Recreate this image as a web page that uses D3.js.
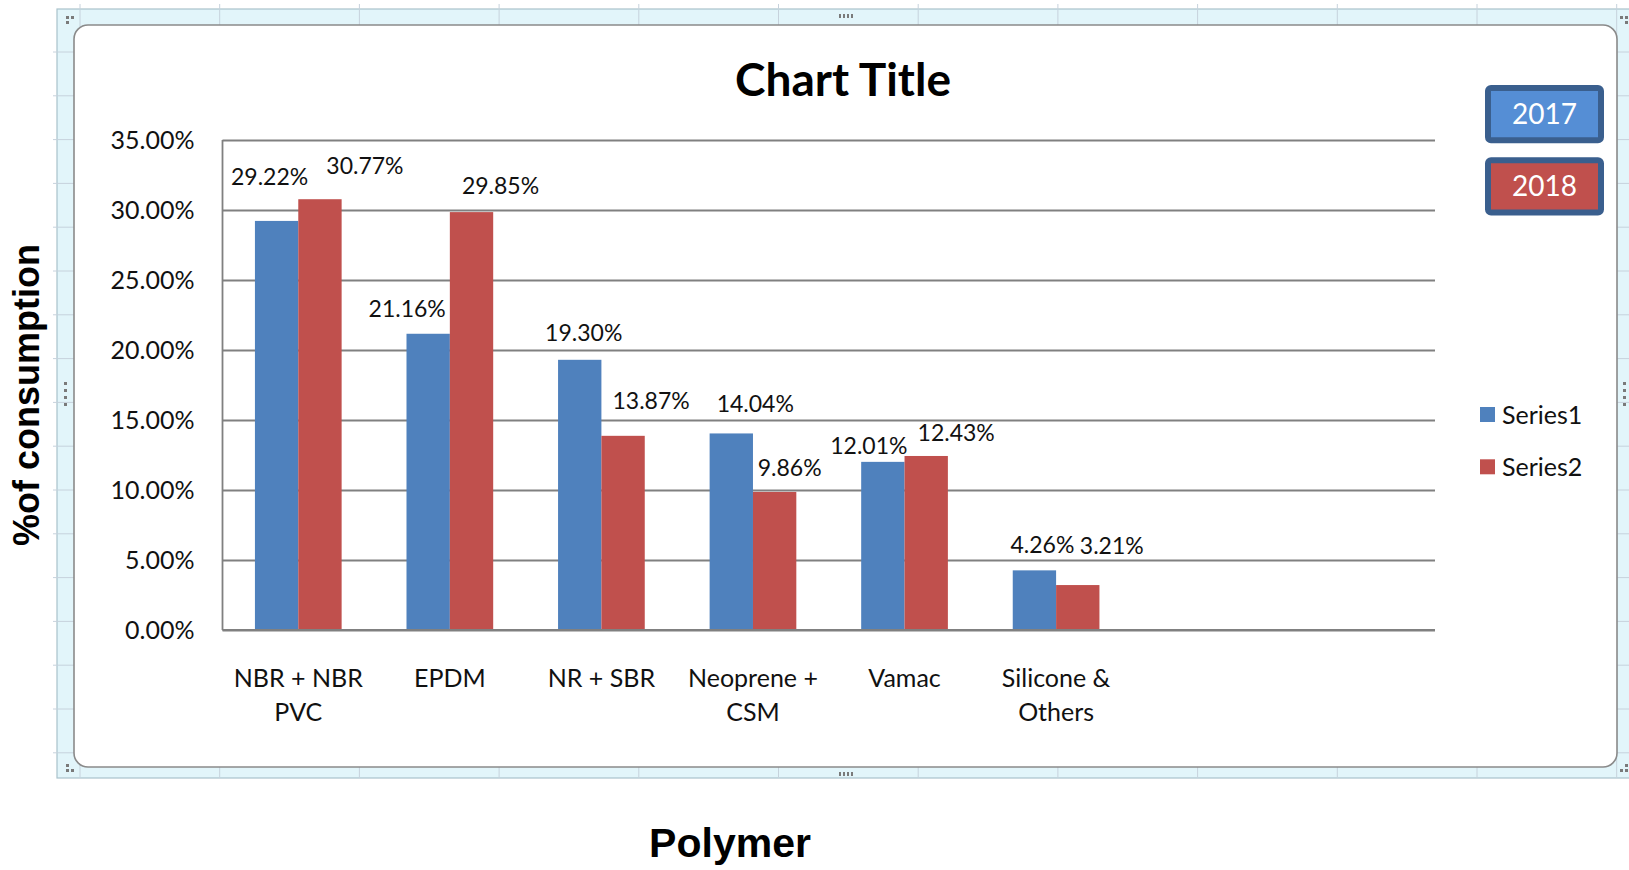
<!DOCTYPE html>
<html>
<head>
<meta charset="utf-8">
<script src="https://cdn.jsdelivr.net/npm/d3@7"></script>
<style>
  body { margin: 0; background: #fff; }
  svg { display: block; }
</style>
</head>
<body>
<svg id="chart"></svg>
<script>
// Values
const categories = [["NBR + NBR", "PVC"], ["EPDM"], ["NR + SBR"], ["Neoprene +", "CSM"], ["Vamac"], ["Silicone &", "Others"], [""], [""]];
const series1 = [29.22, 21.16, 19.30, 14.04, 12.01, 4.26, null, null];
const series2 = [30.77, 29.85, 13.87, 9.86, 12.43, 3.21, null, null];
const seriesNames = ["Series1", "Series2"];
const yTicks = [0, 5, 10, 15, 20, 25, 30, 35];
const yearLabels = ["2017", "2018"];

// Colours
const seriesColors = ["#4F81BD", "#C0504D"];
const yearFills = ["#558ED5", "#C0504D"];

// Data labels were dragged by hand in the original: [dx, px above bar top]
const labelNudge = [
  [[-7, 36], [-21, 17], [4, 19], [24, 21], [-14, 8], [8, 17]],
  [[45, 25], [29, 18], [28, 27], [15, 16], [30, 15], [34, 31]]
];

const W = 1629, H = 870;
const plot = { left: 222.5, right: 1435, top: 140, bottom: 630 };
const calibri = "Lato, 'Open Sans', sans-serif";
const arial = "'Liberation Sans', Arial, sans-serif";
const gridColor = "#808080";

const svg = d3.select("#chart").attr("width", W).attr("height", H);

// Worksheet frame behind the chart (Excel selection border)
const sheet = svg.append("g");
sheet.append("rect")
  .attr("x", 57).attr("y", 9)
  .attr("width", W - 57 + 5).attr("height", 769)
  .attr("fill", "#e2f5fa").attr("stroke", "#a9c2cb").attr("stroke-width", 1.2);

const colLines = d3.range(80, W, 139.7);
sheet.selectAll("line.col").data(colLines).join("line")
  .attr("class", "col")
  .attr("x1", d => d).attr("x2", d => d)
  .attr("y1", 4).attr("y2", 778)
  .attr("stroke", "#c6d2dc").attr("stroke-width", 1);

const rowLines = d3.range(52, 778, 43.8);
sheet.selectAll("line.row").data(rowLines).join("line")
  .attr("class", "row")
  .attr("x1", 53).attr("x2", W)
  .attr("y1", d => d).attr("y2", d => d)
  .attr("stroke", "#c6d2dc").attr("stroke-width", 1);

// Chart area
svg.append("rect")
  .attr("x", 74).attr("y", 25)
  .attr("width", 1543).attr("height", 742)
  .attr("rx", 14)
  .attr("fill", "#fff").attr("stroke", "#8a8a8a").attr("stroke-width", 1.6);

// Resize handles
const handles = svg.append("g").attr("fill", "#7a7a7a");
[[839, 14], [843, 14], [847, 14], [851, 14], [839, 772], [843, 772], [847, 772], [851, 772]]
  .forEach(([x, y]) => handles.append("rect").attr("x", x).attr("y", y).attr("width", 2).attr("height", 4));
[[64, 382], [64, 389], [64, 396], [64, 403], [1623, 382], [1623, 389], [1623, 396], [1623, 403]]
  .forEach(([x, y]) => handles.append("rect").attr("x", x).attr("y", y).attr("width", 3).attr("height", 3));
[[66, 16], [71, 16], [66, 21], [66, 764], [66, 769], [71, 769], [1620, 16], [1625, 16], [1625, 21], [1625, 764], [1625, 769], [1620, 769]]
  .forEach(([x, y]) => handles.append("rect").attr("x", x).attr("y", y).attr("width", 3).attr("height", 3));

// Scales
const idx = categories.map((d, i) => i);
const x0 = d3.scaleBand()
  .domain(idx)
  .range([plot.left, plot.right])
  .paddingInner(0.428)
  .paddingOuter(0.214);

const x1 = d3.scaleBand()
  .domain([0, 1])
  .range([0, x0.bandwidth()]);

const y = d3.scaleLinear()
  .domain([0, 35])
  .range([plot.bottom, plot.top]);

// Gridlines
const grid = svg.append("g")
  .attr("transform", `translate(${plot.left},0)`)
  .call(d3.axisLeft(y).tickValues(yTicks).tickSize(-(plot.right - plot.left)).tickFormat(""));
grid.select(".domain").remove();
grid.selectAll("line").attr("stroke", gridColor).attr("stroke-width", 1.8);

// Y axis line
svg.append("line")
  .attr("x1", plot.left).attr("x2", plot.left)
  .attr("y1", plot.top).attr("y2", plot.bottom)
  .attr("stroke", gridColor).attr("stroke-width", 1.8);

// Y tick labels
const yAxis = svg.append("g")
  .attr("transform", `translate(${plot.left},0)`)
  .call(d3.axisLeft(y).tickValues(yTicks).tickSize(0).tickPadding(28).tickFormat(d => d.toFixed(2) + "%"));
yAxis.select(".domain").remove();
yAxis.selectAll("text")
  .style("font-family", calibri).style("font-size", "25px").attr("fill", "#111");

// X category labels (two lines where needed)
const xAxis = svg.append("g")
  .attr("transform", `translate(0,${plot.bottom})`)
  .call(d3.axisBottom(x0).tickSize(0).tickFormat(""));
xAxis.select(".domain").remove();
xAxis.selectAll(".tick").each(function (i) {
  const t = d3.select(this).append("text")
    .attr("y", 57)
    .attr("fill", "#111")
    .attr("text-anchor", "middle")
    .style("font-family", calibri).style("font-size", "25px");
  categories[i].forEach((line, k) => {
    t.append("tspan").attr("x", 0).attr("dy", k === 0 ? 0 : 34.3).text(line);
  });
});

// Bars
const allSeries = [series1, series2];
allSeries.forEach((values, s) => {
  const rows = values.map((v, i) => ({ i, v })).filter(d => d.v !== null);
  svg.append("g")
    .attr("fill", seriesColors[s])
    .selectAll("rect")
    .data(rows)
    .join("rect")
    .attr("x", d => x0(d.i) + x1(s))
    .attr("y", d => y(d.v))
    .attr("width", x1.bandwidth())
    .attr("height", d => y(0) - y(d.v));

  svg.append("g")
    .selectAll("text")
    .data(rows)
    .join("text")
    .attr("x", d => x0(d.i) + x1(s) + x1.bandwidth() / 2 + labelNudge[s][d.i][0])
    .attr("y", d => y(d.v) - labelNudge[s][d.i][1])
    .attr("text-anchor", "middle")
    .attr("fill", "#111")
    .style("font-family", calibri).style("font-size", "23px")
    .text(d => d.v.toFixed(2) + "%");
});

// X axis line
svg.append("line")
  .attr("x1", plot.left).attr("x2", plot.right)
  .attr("y1", y(0)).attr("y2", y(0))
  .attr("stroke", gridColor).attr("stroke-width", 1.8);

// Title
svg.append("text")
  .attr("x", 843).attr("y", 96)
  .attr("text-anchor", "middle")
  .style("font-family", calibri).style("font-size", "46px").style("font-weight", "bold")
  .attr("fill", "#000")
  .text("Chart Title");

// Year boxes (drawn shapes in the original sheet)
const boxes = svg.append("g");
yearLabels.forEach((lab, i) => {
  const by = 88 + i * 72.3;
  boxes.append("rect")
    .attr("x", 1488).attr("y", by)
    .attr("width", 113).attr("height", 52.3)
    .attr("rx", 3)
    .attr("fill", yearFills[i]).attr("stroke", "#3A5F8E").attr("stroke-width", 6);
  boxes.append("text")
    .attr("x", 1544.5).attr("y", by + 36)
    .attr("text-anchor", "middle")
    .attr("fill", "#fff")
    .style("font-family", calibri).style("font-size", "28px")
    .text(lab);
});

// Legend
const legend = svg.append("g");
seriesNames.forEach((name, i) => {
  legend.append("rect")
    .attr("x", 1480).attr("y", 407 + i * 52.3)
    .attr("width", 15).attr("height", 15)
    .attr("fill", seriesColors[i]);
  legend.append("text")
    .attr("x", 1502).attr("y", 423.5 + i * 52.3)
    .attr("fill", "#111")
    .style("font-family", calibri).style("font-size", "25px")
    .text(name);
});

// Axis titles (outside the chart object)
svg.append("text")
  .attr("transform", "translate(39,395) rotate(-90)")
  .attr("text-anchor", "middle")
  .style("font-family", arial).style("font-size", "36px").style("font-weight", "bold")
  .attr("fill", "#000")
  .text("%of consumption");

svg.append("text")
  .attr("x", 730).attr("y", 857)
  .attr("text-anchor", "middle")
  .style("font-family", arial).style("font-size", "41px").style("font-weight", "bold")
  .attr("fill", "#000")
  .text("Polymer");
</script>
</body>
</html>
